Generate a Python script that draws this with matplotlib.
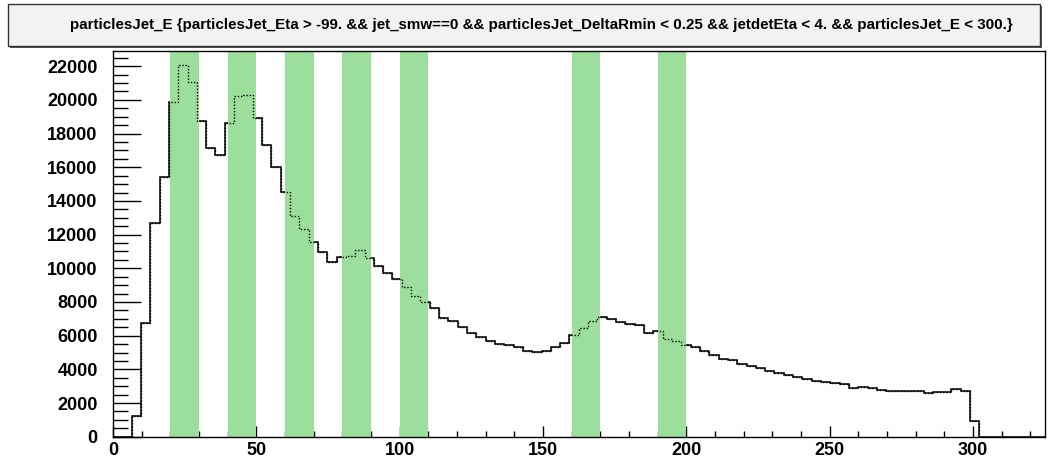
import matplotlib
matplotlib.use('Agg')
import matplotlib.pyplot as plt
import numpy as np
from matplotlib.patches import Rectangle
from matplotlib.ticker import MultipleLocator

# * histogram: 100 bins over [0, 325]
x_min = 0.
x_max = 325.
n_bins = 100

counts = [
  0, 0, 1200, 6750, 12700, 15410, 19880, 22100, 21070, 18750,
  17150, 16700, 18600, 20240, 20320, 18900, 17310, 15990, 14520, 13100,
  12310, 11570, 10980, 10350, 10650, 10720, 11080, 10590, 10150, 9700,
  9380, 8870, 8370, 7990, 7620, 7030, 6870, 6490, 6170, 5935,
  5700, 5520, 5425, 5300, 5105, 5025, 5105, 5300, 5540, 6020,
  6430, 6880, 7090, 6970, 6830, 6670, 6610, 6140, 6260, 5790,
  5700, 5440, 5340, 5090, 4850, 4630, 4550, 4315, 4195, 4060,
  3920, 3760, 3645, 3525, 3405, 3325, 3265, 3205, 3145, 2875,
  2930, 2890, 2770, 2730, 2730, 2695, 2730, 2575, 2635, 2655,
  2810, 2695, 950, 0, 0, 0, 0, 0, 0, 0,
]

# green bands (energy windows)
band_lo = [20, 40, 60, 80, 100, 160, 190]
band_hi = [30, 50, 70, 90, 110, 170, 200]

title = ('particlesJet_E {particlesJet_Eta > -99. && jet_smw==0 && '
         'particlesJet_DeltaRmin < 0.25 && jetdetEta < 4. && particlesJet_E < 300.}')

y_top = 22900
font = 'Liberation Sans'


def main():
  fig = plt.figure(figsize=(10.48, 4.58), dpi=100)
  ax = fig.add_axes([0.1078, 0.0465, 0.889, 0.842])

  edges = np.linspace(x_min, x_max, n_bins + 1)
  values = np.array(counts, dtype=float)

  # * line, then bands on top, then dotted line through the bands
  ax.stairs(values, edges, color='black', linewidth=1.1, zorder=1)
  for lo, hi in zip(band_lo, band_hi):
    ax.axvspan(lo, hi, facecolor='#9cdf9c', edgecolor='none', zorder=2)
  ax.stairs(values, edges, color='black', linewidth=1.0, linestyle=(0, (1, 1.3)), zorder=3)

  ax.set_xlim(x_min, x_max)
  ax.set_ylim(0, y_top)

  ax.xaxis.set_major_locator(MultipleLocator(50))
  ax.xaxis.set_minor_locator(MultipleLocator(10))
  ax.yaxis.set_major_locator(MultipleLocator(2000))
  ax.yaxis.set_minor_locator(MultipleLocator(500))

  ax.tick_params(axis='x', which='major', direction='in', length=8, width=1, pad=4)
  ax.tick_params(axis='x', which='minor', direction='in', length=4.5, width=1)
  ax.tick_params(axis='y', which='major', direction='in', length=20, width=1, pad=11)
  ax.tick_params(axis='y', which='minor', direction='in', length=11, width=1)
  ax.tick_params(top=False, right=False, which='both')

  for lab in ax.get_xticklabels() + ax.get_yticklabels():
    lab.set_fontfamily(font)
    lab.set_fontweight('bold')
    lab.set_fontsize(13)

  for sp in ax.spines.values():
    sp.set_linewidth(1.0)
    sp.set_color('black')

  # * title box with shadow (ROOT style)
  fig.patches.append(Rectangle((10 / 1048, 410 / 458), 1032 / 1048, 42 / 458,
    transform=fig.transFigure, facecolor='#555555', edgecolor='none', zorder=0))
  fig.patches.append(Rectangle((8 / 1048, 412 / 458), 1032 / 1048, 42 / 458,
    transform=fig.transFigure, facecolor='#f2f2f2', edgecolor='#333333', linewidth=1, zorder=1))
  fig.text(541 / 1048, 433 / 458, title, ha='center', va='center',
    fontfamily=font, fontweight='bold', fontsize=10.9)

  fig.savefig('out.png', dpi=100)


if __name__ == '__main__':
  main()
